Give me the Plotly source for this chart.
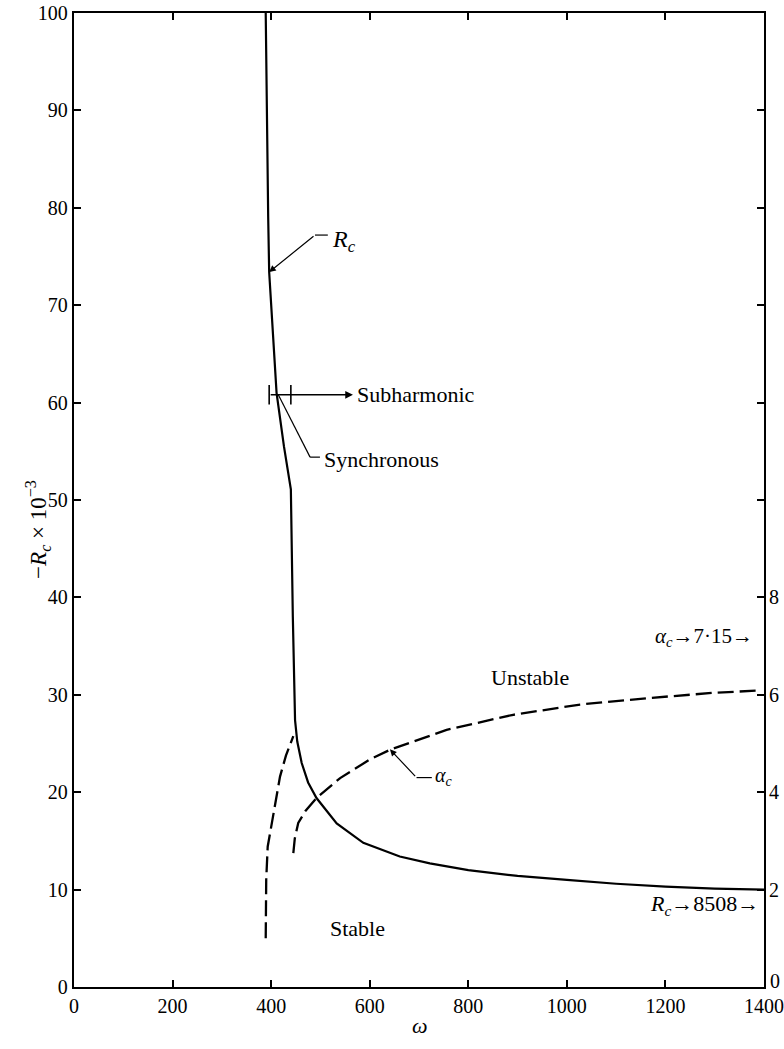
import plotly.graph_objects as go

# ---- data ----
omega_rc = [389, 391, 394, 396, 404, 411, 426, 440, 444, 446, 448.5, 453, 462, 475, 492,
            533, 587, 661, 722, 800, 900, 1000, 1100, 1200, 1300, 1400]
rc_1e3 = [100, 90, 79, 73.4, 66.5, 61, 55.5, 51.1, 38, 31, 27.4, 25.2, 23, 21, 19.4,
          16.8, 14.8, 13.4, 12.7, 12.0, 11.4, 11.0, 10.6, 10.3, 10.1, 10.0]

omega_a1 = [389, 389.3, 390, 393, 398, 405, 418, 430, 445]
alpha_1 = [1.0, 1.6, 2.2, 2.88, 3.16, 3.6, 4.32, 4.75, 5.15]

omega_a2 = [445, 448, 455, 470, 492, 540, 600, 641, 756, 891, 1027, 1162, 1297, 1392]
alpha_2 = [2.75, 3.05, 3.37, 3.62, 3.88, 4.29, 4.67, 4.87, 5.28, 5.59, 5.80, 5.93, 6.04, 6.09]

x_ticks = [0, 200, 400, 600, 800, 1000, 1200, 1400]
y_ticks = [0, 10, 20, 30, 40, 50, 60, 70, 80, 90, 100]
y2_ticks = [2, 4, 6, 8]
y2_zero_label = "0"

FONT = "Liberation Serif"
BLACK = "black"
TXT = 22

fig = go.Figure()
fig.add_trace(go.Scatter(x=omega_rc, y=rc_1e3, mode="lines",
                         line=dict(color=BLACK, width=2.2), hoverinfo="skip"))
fig.add_trace(go.Scatter(x=omega_a1, y=alpha_1, mode="lines", yaxis="y2",
                         line=dict(color=BLACK, width=2.3, dash="16px,6px"), hoverinfo="skip"))
fig.add_trace(go.Scatter(x=omega_a2, y=alpha_2, mode="lines", yaxis="y2",
                         line=dict(color=BLACK, width=2.3, dash="16px,6px"), hoverinfo="skip"))

ann = []
def txt(x, y, s, xanchor="center", size=TXT, **kw):
    ann.append(dict(x=x, y=y, xref="x", yref="y", text=s, showarrow=False,
                    xanchor=xanchor, yanchor="middle",
                    font=dict(family=FONT, size=size, color=BLACK), **kw))

def arrow(x, y, ax, ay, head=2, w=1.2):
    ann.append(dict(x=x, y=y, ax=ax, ay=ay, xref="x", yref="y", axref="x", ayref="y",
                    text="", showarrow=True, arrowhead=head, arrowsize=1.1,
                    arrowwidth=w, arrowcolor=BLACK))

shapes = []
def seg(x0, y0, x1, y1, w=1.2):
    shapes.append(dict(type="line", xref="x", yref="y", x0=x0, y0=y0, x1=x1, y1=y1,
                       line=dict(color=BLACK, width=w)))

# R_c label with leader
arrow(396, 73.4, 489, 77.2)
seg(489, 77.2, 515, 77.2)
txt(520, 76.6, "<i>R</i><sub><i>c</i></sub>", xanchor="left", size=24)

# Subharmonic
seg(396, 59.8, 396, 61.8, w=1.6)
seg(440, 59.8, 440, 61.8, w=1.6)
arrow(566, 60.8, 396, 60.8, head=2, w=1.4)
txt(570, 60.8, "Subharmonic", xanchor="left")

# Synchronous
seg(414.5, 60.8, 479, 54.4)
seg(479, 54.4, 499, 54.4)
txt(503, 54.2, "Synchronous", xanchor="left")

# region labels
txt(925, 31.8, "Unstable")
txt(576, 6.0, "Stable")

# alpha_c leader
arrow(641, 24.4, 695, 21.5)
seg(695, 21.5, 726, 21.5)
txt(729, 21.6, "<i>α</i><sub><i>c</i></sub>", xanchor="left", size=20)

# asymptote notes
txt(1382, 35.9, "<i>α</i><sub><i>c</i></sub>→7·15→", xanchor="right", size=21)
txt(1394, 8.4, "<i>R</i><sub><i>c</i></sub>→8508→", xanchor="right", size=22)

# right-axis zero label, lifted slightly above the corner as in the reference
ann.append(dict(x=1.0, y=0.6, xref="paper", yref="y", text=y2_zero_label, showarrow=False,
                xanchor="left", yanchor="middle", xshift=4,
                font=dict(family=FONT, size=20, color=BLACK)))

# axis titles
ann.append(dict(x=-0.078, y=0.47, xref="paper", yref="paper", textangle=-90,
                text="−<i>R</i><sub><i>c</i></sub> × 10<sup>−3</sup>", showarrow=False,
                font=dict(family=FONT, size=23, color=BLACK)))
ann.append(dict(x=0.502, y=-0.054, xref="paper", yref="paper",
                text="<i>ω</i>", showarrow=False,
                font=dict(family=FONT, size=22, color=BLACK)))

fig.update_layout(
    width=784, height=1049,
    margin=dict(l=74, r=20, t=13, b=62, pad=0, autoexpand=False),
    paper_bgcolor="white", plot_bgcolor="white",
    showlegend=False,
    font=dict(family=FONT, size=20, color=BLACK),
    annotations=ann, shapes=shapes,
    xaxis=dict(range=[0, 1400], tickvals=x_ticks, ticks="inside", ticklen=7, tickwidth=1.6,
               tickcolor=BLACK, showline=True, linecolor=BLACK, linewidth=2.4,
               mirror="ticks", showgrid=False, zeroline=False, automargin=False,
               tickfont=dict(family=FONT, size=20)),
    yaxis=dict(range=[0, 100], tickvals=y_ticks, ticks="inside", ticklen=7, tickwidth=1.6,
               tickcolor=BLACK, showline=True, linecolor=BLACK, linewidth=2.4,
               mirror="ticks", showgrid=False, zeroline=False, automargin=False,
               tickfont=dict(family=FONT, size=20)),
    yaxis2=dict(range=[0, 20], overlaying="y", side="right", tickvals=y2_ticks,
                ticks="", showline=False, showgrid=False, zeroline=False, automargin=False,
                ticklabelstandoff=4,
                tickfont=dict(family=FONT, size=20)),
)

fig.write_html("out.html")
